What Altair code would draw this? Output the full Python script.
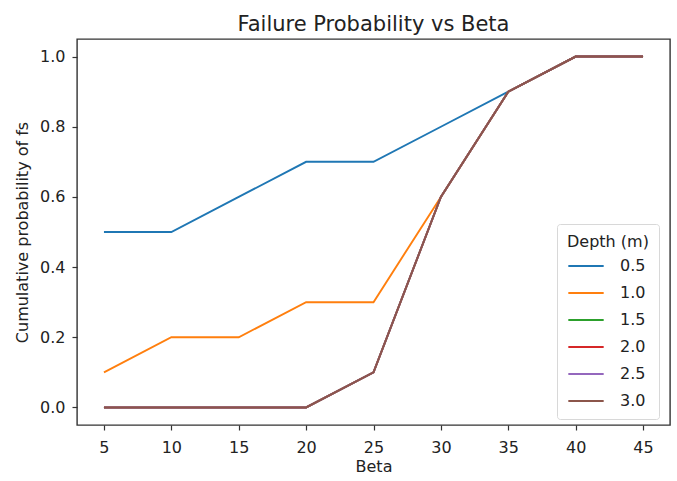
import altair as alt
import pandas as pd

beta = [5, 10, 15, 20, 25, 30, 35, 40, 45]
depths = ["0.5", "1.0", "1.5", "2.0", "2.5", "3.0"]
series = {
    "0.5": [0.5, 0.5, 0.6, 0.7, 0.7, 0.8, 0.9, 1.0, 1.0],
    "1.0": [0.1, 0.2, 0.2, 0.3, 0.3, 0.6, 0.9, 1.0, 1.0],
    "1.5": [0.0, 0.0, 0.0, 0.0, 0.1, 0.6, 0.9, 1.0, 1.0],
    "2.0": [0.0, 0.0, 0.0, 0.0, 0.1, 0.6, 0.9, 1.0, 1.0],
    "2.5": [0.0, 0.0, 0.0, 0.0, 0.1, 0.6, 0.9, 1.0, 1.0],
    "3.0": [0.0, 0.0, 0.0, 0.0, 0.1, 0.6, 0.9, 1.0, 1.0],
}
colors = ["#1f77b4", "#ff7f0e", "#2ca02c", "#d62728", "#9467bd", "#8c564b"]
y_ticks = [0.0, 0.2, 0.4, 0.6, 0.8, 1.0]

rows = []
for i, d in enumerate(depths):
    for b, v in zip(beta, series[d]):
        rows.append({"Beta": b, "prob": v, "Depth": d, "order": i})
df = pd.DataFrame(rows)

FONT = "DejaVu Sans"

chart = alt.Chart(df).mark_line(strokeWidth=1.9).encode(
    x=alt.X("Beta:Q",
            scale=alt.Scale(domain=[3, 47], nice=False, zero=False),
            axis=alt.Axis(values=beta, title="Beta", format="d",
                          labelPadding=9, titlePadding=3)),
    y=alt.Y("prob:Q",
            scale=alt.Scale(domain=[-0.05, 1.05], nice=False, zero=False),
            axis=alt.Axis(values=y_ticks, format=".1f",
                          title="Cumulative probability of fs",
                          labelPadding=7, titlePadding=9)),
    color=alt.Color("Depth:N",
                    scale=alt.Scale(domain=depths, range=colors),
                    legend=alt.Legend(title="Depth (m)", orient="none",
                                      legendX=480, legendY=185,
                                      symbolType="stroke", symbolSize=1250,
                                      symbolStrokeWidth=2, rowPadding=-20,
                                      labelFontSize=16, titleFontSize=16,
                                      titleFontWeight="normal", labelFont=FONT,
                                      titleFont=FONT, labelColor="#222",
                                      titleColor="#222", padding=10,
                                      strokeColor="#d8d8d8", fillColor="white",
                                      cornerRadius=3, labelOffset=15,
                                      titlePadding=-3)),
    order=alt.Order("order:Q"),
).properties(
    width=593, height=386,
    title=alt.TitleParams("Failure Probability vs Beta", fontSize=21,
                          font=FONT, fontWeight="normal", color="#222",
                          offset=4),
    autosize=alt.AutoSizeParams(type="none"),
    padding={"left": 77, "top": 39, "right": 7, "bottom": 56},
).configure_view(
    stroke="#333", strokeWidth=1.4
).configure_axis(
    domain=False, grid=False, tickColor="#333", tickSize=5, tickWidth=1.2,
    labelFont=FONT, labelFontSize=16, labelColor="#222",
    titleFont=FONT, titleFontSize=16, titleFontWeight="normal",
    titleColor="#222"
)

chart.save("out.html", embed_options={"renderer": "svg", "actions": False})
